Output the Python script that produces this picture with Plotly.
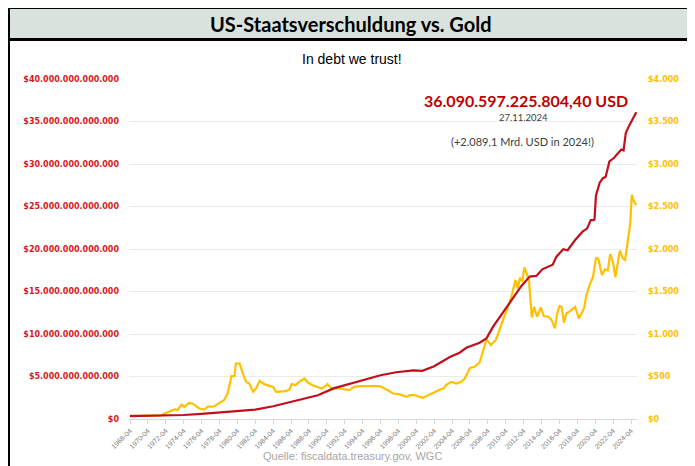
import plotly.graph_objects as go

# ---------------- data ----------------
gold_dates = ["1968-04", "1969-04", "1970-04", "1971-04", "1971-10", "1972-01", "1972-09", "1973-04",
              "1973-08", "1974-01", "1974-05", "1974-11", "1975-04", "1976-01", "1976-08", "1976-12",
              "1977-09", "1978-04", "1978-10", "1979-03", "1979-08", "1979-12", "1980-02", "1980-07",
              "1980-12", "1981-04", "1981-08", "1982-01", "1982-05", "1982-10", "1983-04", "1983-11",
              "1984-04", "1984-08", "1985-03", "1985-09", "1986-02", "1986-05", "1986-10", "1987-03",
              "1987-10", "1988-03", "1988-09", "1989-04", "1989-09", "1990-02", "1990-05", "1990-10",
              "1991-09", "1992-10", "1993-05", "1993-12", "1994-09", "1995-10", "1996-03", "1996-12",
              "1997-09", "1998-05", "1999-03", "1999-07", "2000-02", "2000-08", "2001-01", "2001-08",
              "2002-02", "2002-12", "2003-05", "2003-08", "2004-03", "2004-10", "2005-04", "2005-09",
              "2006-04", "2006-10", "2007-05", "2007-09", "2008-02", "2008-08", "2009-03", "2009-09",
              "2010-04", "2010-11", "2011-05", "2011-08", "2011-11", "2012-02", "2012-05", "2012-11",
              "2013-03", "2013-06", "2013-10", "2014-03", "2014-07", "2015-01", "2015-05", "2015-10",
              "2016-01", "2016-04", "2016-07", "2016-10", "2017-01", "2017-05", "2018-01", "2018-06",
              "2019-01", "2019-04", "2019-08", "2020-01", "2020-05", "2020-08", "2021-01", "2021-05",
              "2021-09", "2021-12", "2022-04", "2022-07", "2023-01", "2023-05", "2023-08", "2023-12",
              "2024-03", "2024-05", "2024-08", "2024-11"]
gold_usd = [38, 40, 36, 39, 42, 58, 84, 112,
            105, 170, 143, 190, 180, 124, 112, 143,
            150, 190, 221, 300, 504, 504, 653, 653,
            516, 437, 418, 320, 359, 449, 410, 390,
            378, 320, 320, 327, 347, 410, 398, 437,
            477, 426, 398, 371, 359, 386, 410, 359,
            359, 339, 378, 386, 386, 378, 386, 347,
            300, 292, 260, 280, 280, 260, 253, 280,
            307, 347, 359, 398, 437, 418, 437, 477,
            600, 614, 665, 790, 936, 869, 936, 1085,
            1242, 1419, 1635, 1537, 1662, 1615, 1784, 1635,
            1195, 1320, 1203, 1312, 1211, 1203, 1172, 1066,
            1242, 1328, 1320, 1132, 1242, 1262, 1320, 1184,
            1300, 1450, 1564, 1674, 1890, 1890, 1694, 1761,
            1750, 1941, 1839, 1666, 1980, 1890, 1870, 2145,
            2303, 2636, 2557, 2518]

debt_dates = ["1968-04", "1970-04", "1972-04", "1974-04", "1976-04", "1978-04", "1980-04", "1982-04",
              "1984-04", "1986-04", "1987-04", "1989-04", "1991-01", "1993-01", "1994-09", "1996-04",
              "1998-01", "1999-12", "2000-12", "2002-04", "2004-01", "2005-02", "2005-11", "2007-05",
              "2008-02", "2008-11", "2010-01", "2011-02", "2012-01", "2012-12", "2013-09", "2014-05",
              "2015-05", "2015-07", "2015-12", "2016-09", "2017-03", "2018-01", "2018-11", "2019-05",
              "2019-10", "2020-02", "2020-03", "2020-05", "2020-10", "2021-02", "2021-06", "2021-11",
              "2022-05", "2022-12", "2023-03", "2023-06", "2023-09", "2024-02", "2024-05", "2024-11"]
debt_trillion_usd = [0.35, 0.37, 0.43, 0.47, 0.60, 0.75, 0.90, 1.10,
                     1.50, 2.05, 2.30, 2.80, 3.60, 4.20, 4.75, 5.15,
                     5.50, 5.72, 5.67, 6.20, 7.30, 7.80, 8.38, 8.97,
                     9.48, 10.86, 12.63, 14.20, 15.65, 16.75, 16.83, 17.61,
                     18.12, 18.15, 19.10, 19.97, 19.85, 21.06, 22.04, 22.40,
                     23.40, 23.40, 23.50, 26.30, 27.80, 28.30, 28.50, 30.30,
                     30.70, 31.50, 31.70, 31.60, 33.66, 34.60, 35.10, 36.09]

x_tick_vals = [f"{y}-04-01" for y in range(1968, 2025, 2)]
x_tick_text = [f"{y}-04" for y in range(1968, 2025, 2)]

debt_tick_vals = [0, 5, 10, 15, 20, 25, 30, 35, 40]
debt_tick_text = ["$0", "$5.000.000.000.000", "$10.000.000.000.000", "$15.000.000.000.000",
                  "$20.000.000.000.000", "$25.000.000.000.000", "$30.000.000.000.000",
                  "$35.000.000.000.000", "$40.000.000.000.000"]
gold_tick_vals = [0, 500, 1000, 1500, 2000, 2500, 3000, 3500, 4000]
gold_tick_text = ["$0", "$500", "$1.000", "$1.500", "$2.000", "$2.500", "$3.000", "$3.500", "$4.000"]

title_text = "US-Staatsverschuldung vs. Gold"
subtitle_text = "In debt we trust!"
debt_label = "36.090.597.225.804,40 USD"
date_label = "27.11.2024"
delta_label = "(+2.089,1 Mrd. USD in 2024!)"
source_text = "Quelle: fiscaldata.treasury.gov, WGC"

# ---------------- layout geometry (window pixels; page body has 8px margin) ----------------
OFF = 8
W, H = 695 - OFF, 466 - OFF
L, R, T, B = 129 - OFF, 637 - OFF, 79 - OFF, 419 - OFF


def px(x):
    return (x - OFF - L) / (R - L)


def py(y):
    return (B - (y - OFF)) / (B - T)


RED = "#c0101a"
RED_TICK = "#d7191c"
GOLD = "#ffc000"

fig = go.Figure()
fig.add_trace(go.Scatter(x=gold_dates, y=gold_usd, mode="lines",
                         line=dict(color=GOLD, width=2.2), yaxis="y", hoverinfo="skip"))
fig.add_trace(go.Scatter(x=debt_dates, y=debt_trillion_usd, mode="lines",
                         line=dict(color=RED, width=2.2), yaxis="y2", hoverinfo="skip"))

fig.update_layout(
    width=W, height=H,
    margin=dict(l=L, r=W - R, t=T, b=H - B, pad=0),
    paper_bgcolor="white", plot_bgcolor="white",
    showlegend=False,
    xaxis=dict(
        type="date", range=["1968-02-20", "2024-12-01"],
        tickmode="array", tickvals=x_tick_vals, ticktext=x_tick_text,
        tickangle=-45, tickfont=dict(family="Liberation Sans", size=7, color="#7a7a7a"),
        showgrid=False, zeroline=False,
        showline=True, linecolor="#d9d9d9", linewidth=1,
        ticks="outside", ticklen=4, tickcolor="#d9d9d9", tickwidth=1,
    ),
    yaxis=dict(
        side="right", range=[0, 4000],
        tickmode="array", tickvals=gold_tick_vals, ticktext=gold_tick_text,
        tickfont=dict(family="DejaVu Sans", size=8, color=GOLD, weight="bold"),
        showgrid=True, gridcolor="#ebebeb", gridwidth=1, zeroline=False,
        ticklabelstandoff=10,
    ),
    yaxis2=dict(
        side="left", overlaying="y", range=[0, 40],
        tickmode="array", tickvals=debt_tick_vals, ticktext=debt_tick_text,
        tickfont=dict(family="DejaVu Sans", size=8, color=RED_TICK, weight="bold"),
        showgrid=False, zeroline=False,
        ticklabelstandoff=9,
    ),
)

shapes = []
# title band
shapes.append(dict(type="rect", xref="paper", yref="paper", x0=px(10), x1=px(692), y0=py(9), y1=py(38),
                   fillcolor="#d9e2dc", line=dict(width=0), layer="below"))
# black frame pieces
for (x0, x1, y0, y1) in [(7, 695, 6, 9), (7, 695, 38, 41), (7, 10, 6, 466), (692, 695, 6, 466)]:
    shapes.append(dict(type="rect", xref="paper", yref="paper", x0=px(x0), x1=px(x1), y0=py(y0), y1=py(y1),
                       fillcolor="black", line=dict(width=0)))
fig.update_layout(shapes=shapes)

ann = [
    dict(text=f"<b>{title_text}</b>", x=px(351), y=py(24), font=dict(family="Lato", size=20, color="black")),
    dict(text=subtitle_text, x=px(352), y=py(59), font=dict(family="Liberation Sans", size=14, color="black")),
    dict(text=f"<b>{debt_label}</b>", x=px(526), y=py(100), font=dict(family="Lato", size=16, color="#c00000")),
    dict(text=date_label, x=px(523), y=py(117), font=dict(family="Lato", size=9.5, color="#404040")),
    dict(text=delta_label, x=px(522), y=py(141), font=dict(family="Lato", size=11, color="#404040")),
    dict(text=source_text, x=px(352), y=py(456), font=dict(family="Liberation Sans", size=11, color="#a6a6a6")),
]
for a in ann:
    a.update(xref="paper", yref="paper", xanchor="center", yanchor="middle", showarrow=False)
fig.update_layout(annotations=ann)

fig.write_html("out.html")
